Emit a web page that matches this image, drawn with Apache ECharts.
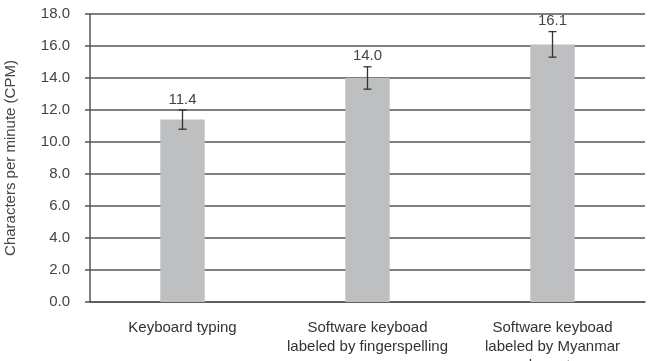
<!DOCTYPE html>
<html>
<head>
<meta charset="utf-8">
<script src="https://cdn.jsdelivr.net/npm/echarts@6/dist/echarts.min.js"></script>
<style>
  html, body { margin: 0; padding: 0; background: #fff; }
  #chart { width: 648px; height: 361px; }
</style>
</head>
<body>
<div id="chart"></div>
<script>
// categories and values
const categories = [
  'Keyboard typing',
  'Software keyboad\nlabeled by fingerspelling',
  'Software keyboad\nlabeled by Myanmar\ncharacter'
];
const cpm = [11.4, 14.0, 16.1];
const errors = [0.6, 0.7, 0.8];
const yTicks = [0, 2, 4, 6, 8, 10, 12, 14, 16, 18];

const chart = echarts.init(document.getElementById('chart'));

// error bars and value labels drawn through the axes
function renderError(params, api) {
  const i = api.value(0);
  const v = api.value(1);
  const e = api.value(2);
  const top = api.coord([i, v + e]);
  const bot = api.coord([i, v - e]);
  const cap = 4;
  const style = { stroke: '#333', lineWidth: 1.3 };
  return {
    type: 'group',
    children: [
      { type: 'line', shape: { x1: top[0], y1: top[1], x2: bot[0], y2: bot[1] }, style },
      { type: 'line', shape: { x1: top[0] - cap, y1: top[1], x2: top[0] + cap, y2: top[1] }, style },
      { type: 'line', shape: { x1: bot[0] - cap, y1: bot[1], x2: bot[0] + cap, y2: bot[1] }, style },
      {
        type: 'text',
        style: {
          x: top[0], y: top[1] - 3,
          text: v.toFixed(1),
          align: 'center', verticalAlign: 'bottom',
          fill: '#444', fontSize: 15, fontFamily: 'Liberation Sans, Arial, sans-serif'
        }
      }
    ]
  };
}

chart.setOption({
  animation: false,
  textStyle: { fontFamily: 'Liberation Sans, Arial, sans-serif' },
  grid: { left: 90, right: 3, top: 14, bottom: 59, outerBoundsMode: 'none' },
  xAxis: {
    type: 'category',
    data: categories,
    axisTick: { show: false },
    axisLine: { lineStyle: { color: '#555', width: 1.5 } },
    axisLabel: { color: '#333', fontSize: 15, lineHeight: 19, margin: 16, interval: 0 }
  },
  yAxis: {
    type: 'value',
    min: yTicks[0],
    max: yTicks[yTicks.length - 1],
    interval: 2,
    name: 'Characters per minute (CPM)',
    nameLocation: 'middle',
    nameGap: 72,
    nameTextStyle: { color: '#444', fontSize: 15 },
    axisLine: { show: true, lineStyle: { color: '#555', width: 1.5 } },
    axisTick: { show: true, length: 5, lineStyle: { color: '#555', width: 1.5 } },
    axisLabel: { color: '#444', fontSize: 15, margin: 20, formatter: v => v.toFixed(1) },
    splitLine: { lineStyle: { color: '#555', width: 1.5 } }
  },
  series: [
    {
      type: 'bar',
      data: cpm,
      barWidth: '24%',
      itemStyle: { color: '#bdbfc1' },
      z: 2
    },
    {
      type: 'custom',
      renderItem: renderError,
      data: cpm.map((v, i) => [i, v, errors[i]]),
      z: 3
    }
  ]
});
</script>
</body>
</html>
